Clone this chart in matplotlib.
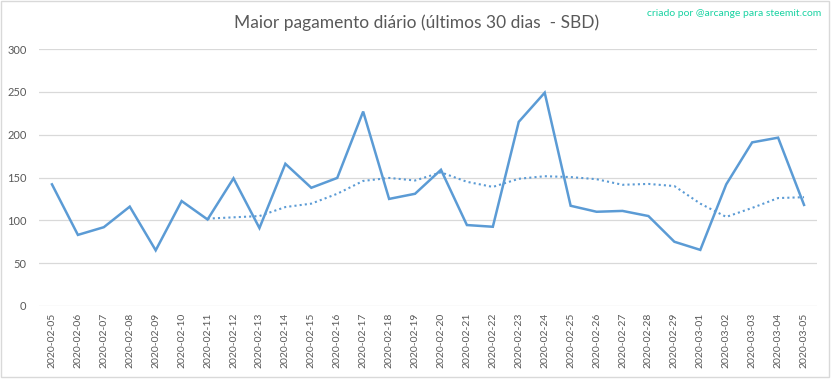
import matplotlib
matplotlib.use('Agg')
import matplotlib.pyplot as plt
from matplotlib.patches import Rectangle

plt.rcParams['font.family'] = ['Lato', 'DejaVu Sans']

dates = ['2020-02-05', '2020-02-06', '2020-02-07', '2020-02-08', '2020-02-09',
         '2020-02-10', '2020-02-11', '2020-02-12', '2020-02-13', '2020-02-14',
         '2020-02-15', '2020-02-16', '2020-02-17', '2020-02-18', '2020-02-19',
         '2020-02-20', '2020-02-21', '2020-02-22', '2020-02-23', '2020-02-24',
         '2020-02-25', '2020-02-26', '2020-02-27', '2020-02-28', '2020-02-29',
         '2020-03-01', '2020-03-02', '2020-03-03', '2020-03-04', '2020-03-05']

max_payout = [142, 83, 92, 116, 65, 122.5, 101, 149, 91, 166,
              138, 149.5, 227, 125, 131, 159, 94.5, 92.5, 215, 249,
              117, 110, 111, 105, 75, 65.5, 142, 191, 196.5, 118]

# dotted trend, only drawn from 2020-02-11 on
trend_start = 6
trend = [102, 103.5, 105, 115.5, 119.5, 131, 146, 149.5, 146.5,
         156, 145, 139, 148.5, 151.5, 150.5, 148, 141.5, 142.5, 140,
         119.5, 104, 114.5, 126, 127]

line_color = '#5B9BD5'
text_color = '#595959'

fig = plt.figure(figsize=(8.33, 3.79), dpi=100)
ax = fig.add_axes([39 / 833, 73 / 379, 778 / 833, 257 / 379])

x = list(range(len(dates)))
ax.plot(x, max_payout, color=line_color, lw=1.8, solid_joinstyle='miter', zorder=3)
ax.plot(x[trend_start:], trend, color=line_color, lw=1.5, ls=(0, (1, 1.5)), zorder=3)

ax.set_xlim(-0.5, len(dates) - 0.5)
ax.set_ylim(0, 300)
ax.set_yticks(range(0, 301, 50))
ax.set_xticks(x)
ax.set_xticklabels(dates, rotation=90, fontsize=7.5, color=text_color)
ax.tick_params(axis='y', labelsize=8, colors=text_color, length=0, pad=9)
ax.tick_params(axis='x', length=0, pad=5)
ax.grid(axis='y', color='#D9D9D9', lw=0.9)
ax.set_axisbelow(True)
for s in ax.spines.values():
    s.set_visible(False)

fig.text(417 / 833, 1 - 23 / 379, 'Maior pagamento diário (últimos 30 dias  - SBD)',
         ha='center', va='center', fontsize=12.5, color=text_color)
fig.text(821 / 833, 1 - 14 / 379, 'criado por @arcange para steemit.com',
         ha='right', va='center', fontsize=7.5, color='#19D3A2')

fig.patches.append(Rectangle((1 / 833, 2 / 379), 828 / 833, 376 / 379,
                             transform=fig.transFigure, fill=False,
                             edgecolor='#D9D9D9', lw=1))

fig.savefig('out.png', dpi=100)
